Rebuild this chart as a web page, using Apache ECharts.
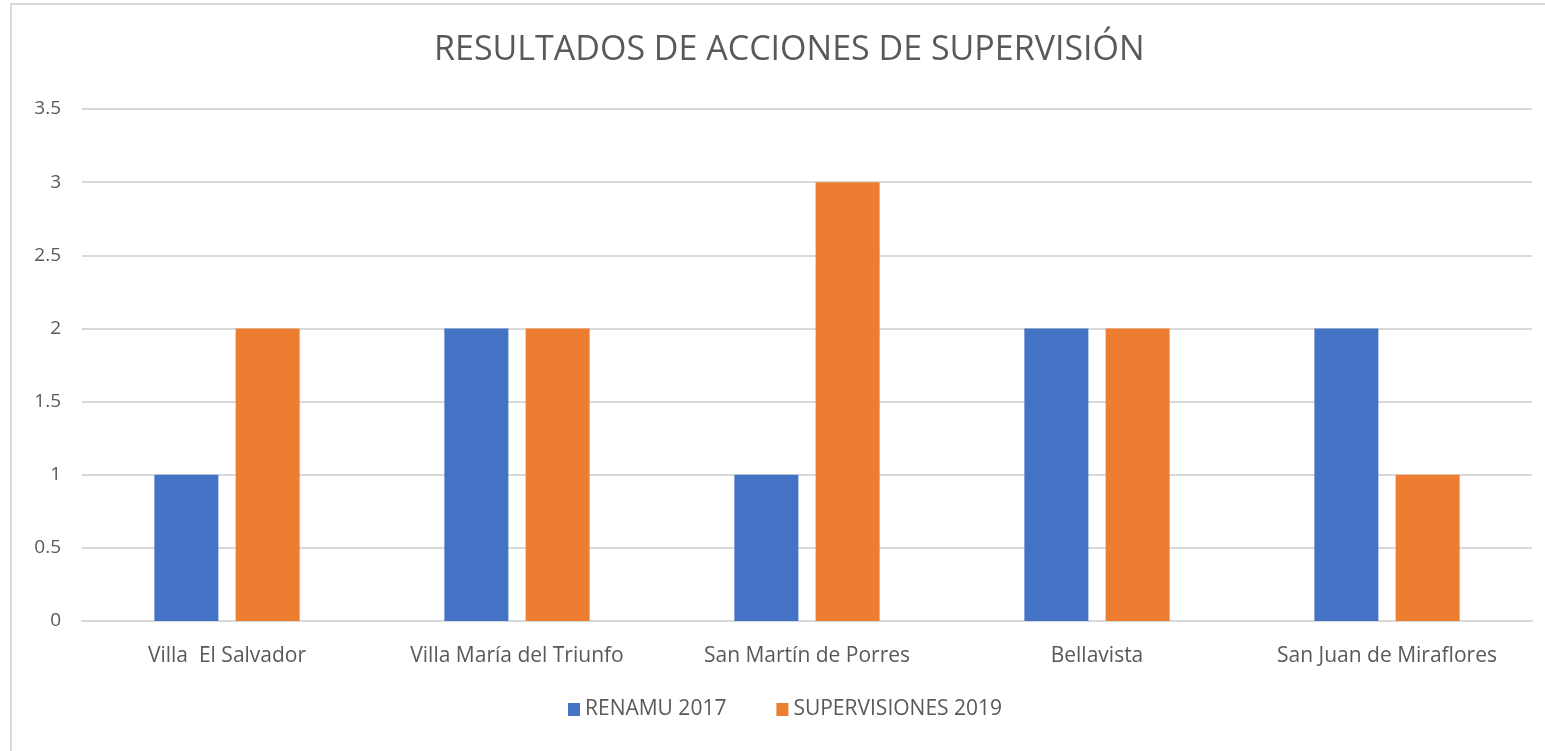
<!DOCTYPE html>
<html><head><meta charset="utf-8">
<script src="https://cdn.jsdelivr.net/npm/echarts@6/dist/echarts.min.js"></script>
<style>html,body{margin:0;padding:0;background:#fff}#c{width:1545px;height:751px}</style>
</head><body><div id="c"></div>
<script>
const categories = ['Villa  El Salvador', 'Villa María del Triunfo', 'San Martín de Porres', 'Bellavista', 'San Juan de Miraflores'];
const renamu2017 = [1, 2, 1, 2, 2];
const supervisiones2019 = [2, 2, 3, 2, 1];
const seriesNames = ['RENAMU 2017', 'SUPERVISIONES 2019'];
const titleText = 'RESULTADOS DE ACCIONES DE SUPERVISIÓN';

const font = '"Open Sans", sans-serif';
const chart = echarts.init(document.getElementById('c'));
chart.setOption({
  animation: false,
  backgroundColor: '#fff',
  graphic: [{
    type: 'rect', shape: {x: 11, y: 4, width: 1600, height: 800},
    style: {fill: 'none', stroke: '#d9d9d9', lineWidth: 2}, silent: true, z: -1
  }],
  title: {
    text: titleText, left: 429, top: 28,
    textStyle: {fontFamily: font, fontWeight: 'normal', fontSize: 34, color: '#595959'}
  },
  legend: {
    data: seriesNames, bottom: 26, left: 563, itemWidth: 12, itemHeight: 13, itemGap: 50,
    icon: 'rect',
    textStyle: {fontFamily: font, fontSize: 21, color: '#595959'}
  },
  grid: {left: 82, right: 13, top: 109, bottom: 130},
  xAxis: {
    type: 'category', data: categories,
    axisLine: {lineStyle: {color: '#d9d9d9', width: 2}},
    axisTick: {show: false},
    axisLabel: {fontFamily: font, fontSize: 21, color: '#595959', margin: 25}
  },
  yAxis: {
    type: 'value', min: 0, max: 3.5, interval: 0.5,
    axisLine: {show: false}, axisTick: {show: false},
    splitLine: {lineStyle: {color: '#d9d9d9', width: 2}},
    axisLabel: {fontFamily: font, fontSize: 19, color: '#595959', margin: 21}
  },
  series: [
    {name: seriesNames[0], type: 'bar', data: renamu2017, barWidth: 64, barGap: '27%', itemStyle: {color: '#4472c4'}},
    {name: seriesNames[1], type: 'bar', data: supervisiones2019, barWidth: 64, itemStyle: {color: '#ed7d31'}}
  ]
});
</script></body></html>
